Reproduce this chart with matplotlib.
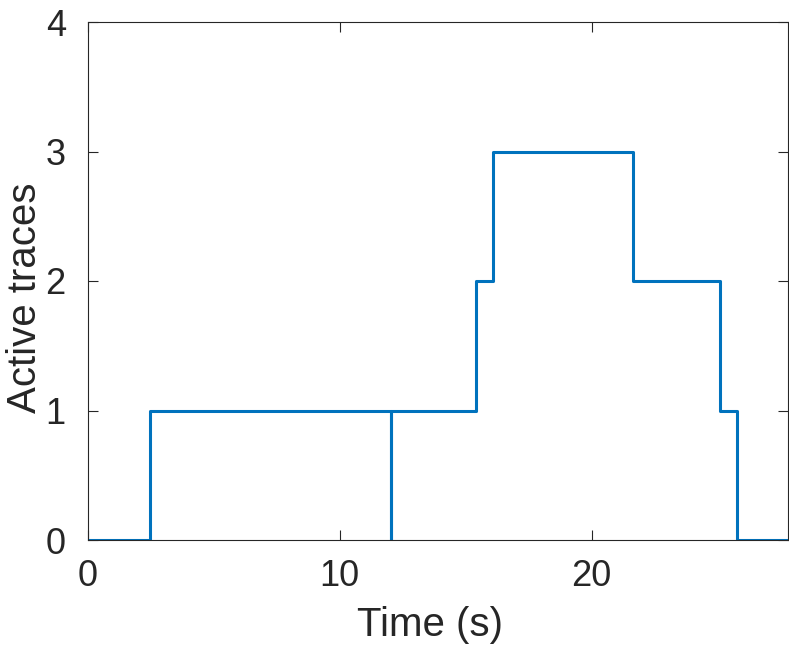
import numpy as np
import matplotlib
matplotlib.use("Agg")
import matplotlib.pyplot as plt

# step times (s) and number of active traces after each time
times = [0, 2.48, 12.05, 12.05, 15.42, 16.1, 21.63, 25.08, 25.78, 27.8]
active = [0, 1, 0, 1, 2, 3, 2, 1, 0, 0]

xticks = [0, 10, 20]
yticks = [0, 1, 2, 3, 4]

plt.rcParams['font.family'] = ['Liberation Sans', 'DejaVu Sans']

fig = plt.figure(figsize=(7.89, 6.47), dpi=100)
ax = fig.add_axes([88/789, 1 - 540/647, (788-88)/789, (540-22)/647])

ax.step(times, active, where='post', color='#0072BD', linewidth=2.2)

ax.set_xlim(0, times[-1])
ax.set_ylim(0, 4)
ax.set_xticks(xticks)
ax.set_yticks(yticks)

ax.tick_params(direction='in', top=True, right=True, length=7, width=0.8,
               labelsize=26, colors='#262626')
ax.tick_params(axis='x', pad=14)
ax.tick_params(axis='y', pad=16)
for s in ax.spines.values():
    s.set_color('#262626')
    s.set_linewidth(0.8)

ax.set_xlabel('Time (s)', fontsize=29, color='#262626', labelpad=8)
ax.set_ylabel('Active traces', fontsize=29, color='#262626', labelpad=1)
# matlab puts the labels a bit off centre
ax.xaxis.label.set_x(0.489)
ax.yaxis.label.set_y(0.468)

fig.savefig('out.png', dpi=100)
